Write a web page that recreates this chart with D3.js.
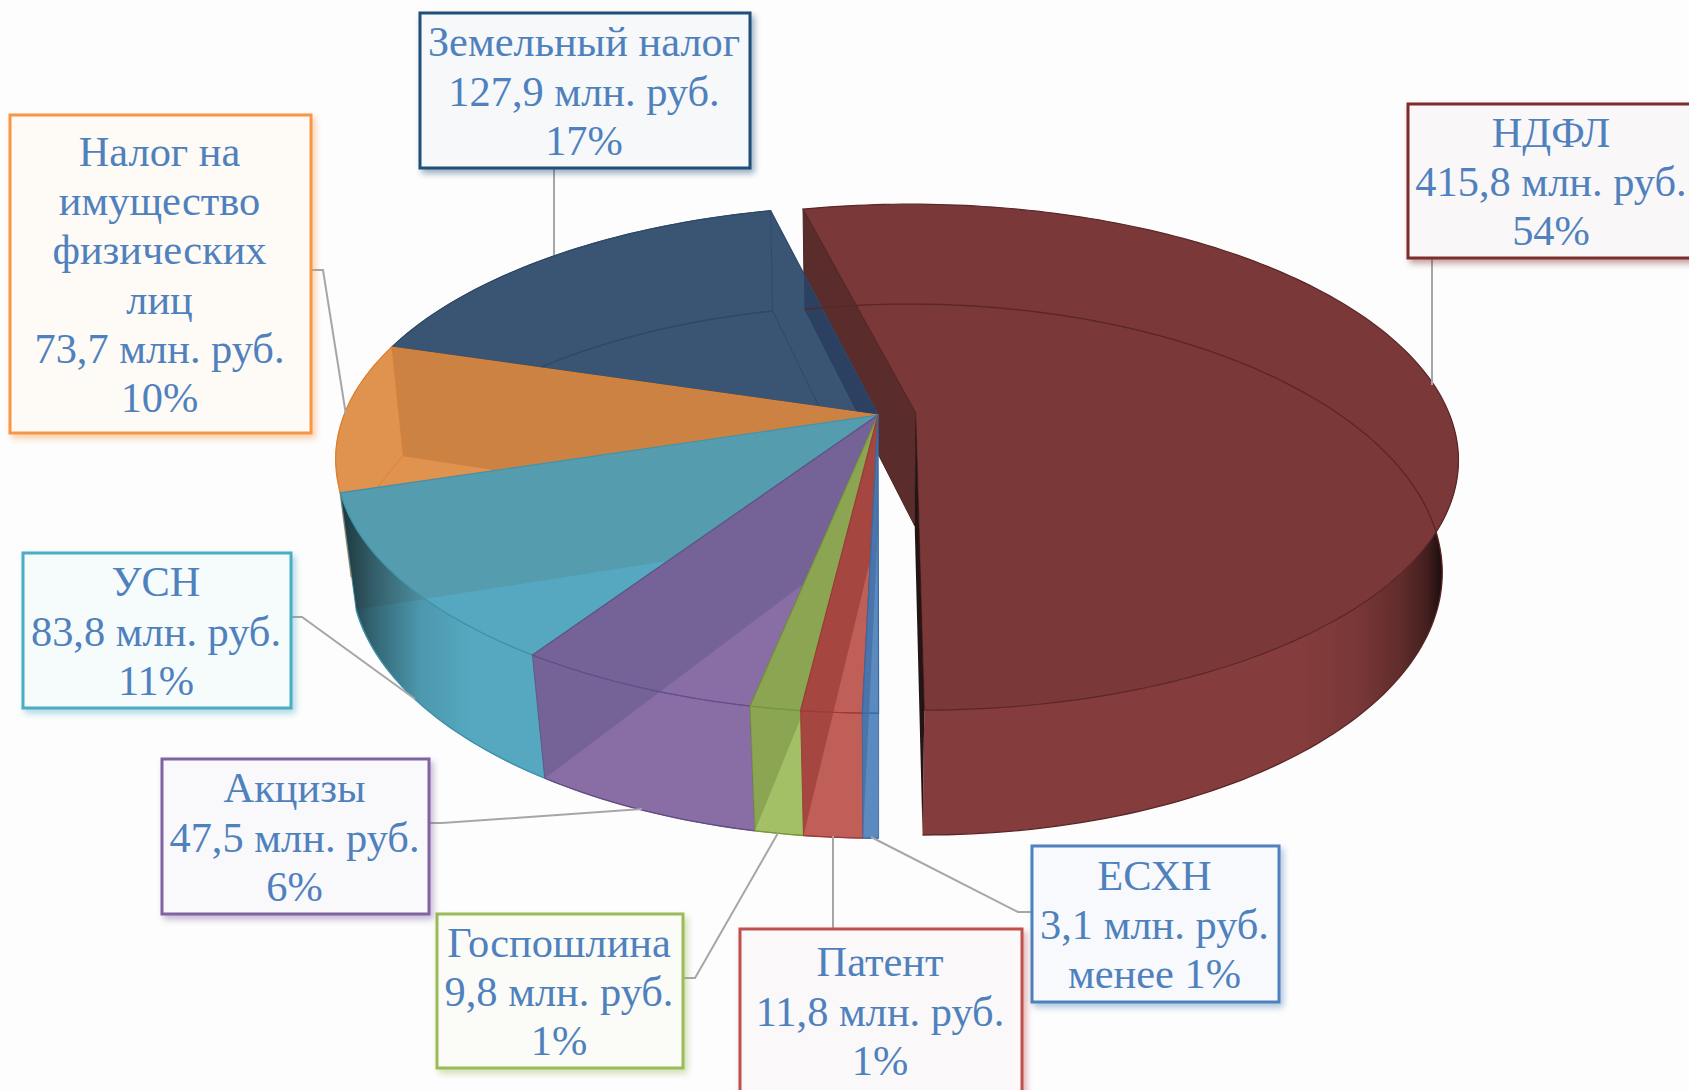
<!DOCTYPE html>
<html>
<head>
<meta charset="utf-8">
<script src="https://cdn.jsdelivr.net/npm/d3@7"></script>
<style>
  html, body { margin: 0; padding: 0; background: #fdfdfd; overflow: hidden; }
  svg { display: block; }
</style>
</head>
<body>
<script>
// chart values
var categories = ["НДФЛ", "ЕСХН", "Патент", "Госпошлина", "Акцизы", "УСН", "Налог на имущество физических лиц", "Земельный налог"];
var values = [415.8, 3.1, 11.8, 9.8, 47.5, 83.8, 73.7, 127.9];
var percents = ["54%", "менее 1%", "1%", "1%", "6%", "11%", "10%", "17%"];

// how the long category names wrap inside their boxes
var wrapped = [["НДФЛ"], ["ЕСХН"], ["Патент"], ["Госпошлина"], ["Акцизы"], ["УСН"], ["Налог на", "имущество", "физических", "лиц"], ["Земельный налог"]];

// slice colours, same order as categories
var lightColors = ["#7a3838", "#5b8ac0", "#c05e58", "#a3c066", "#896ea5", "#55a8c0", "#e0934e", "#3a5574"];
var darkColors = ["#7a3838", "#4a75aa", "#a64640", "#8ba552", "#756397", "#549cae", "#cc8242", "#3a5574"];
var edgeColors = ["#5a2626", "#3c68a2", "#9d3a36", "#779638", "#624f85", "#3f92aa", "#dd8030", "#2e4868"];
var boxStrokes = ["#7f2c2c", "#4f81bd", "#c0504d", "#9bbb59", "#8064a2", "#4bacc6", "#f79646", "#1f4e79"];
var boxFills = ["#f9f7f8", "#f7f9fc", "#faf8f8", "#fbfbf8", "#f9f8fb", "#f6fbfc", "#fefaf6", "#f6f8fa"];

// label boxes: x, y, width, height, then leader line points
var boxes = [
    { x: 1408, y: 104, w: 288, h: 154, leader: [[1432, 258], [1432, 385]] },
    { x: 1032, y: 846, w: 247, h: 156, leader: [[1032, 912], [1018, 912], [871, 837]] },
    { x: 740, y: 929, w: 282, h: 163, leader: [[833, 929], [833, 836]] },
    { x: 437, y: 914, w: 246, h: 154, leader: [[683, 978], [695, 978], [778, 833]] },
    { x: 162, y: 759, w: 267, h: 155, leader: [[429, 823], [442, 823], [642, 809]] },
    { x: 23, y: 553, w: 268, h: 155, leader: [[291, 617], [302, 617], [415, 699]] },
    { x: 10, y: 115, w: 301, h: 318, leader: [[311, 270], [323, 270], [346, 415]] },
    { x: 420, y: 13, w: 330, h: 155, leader: [[554, 168], [554, 255]] }
];

var width = 1689,
    height = 1090;

var svg = d3.select("body")
    .append("svg")
    .attr("width", width)
    .attr("height", height);

svg.append("rect").attr("width", width).attr("height", height).attr("fill", "#fdfdfd");

var defs = svg.append("defs");

// side shading gradients (black fading in towards the edge of the disc)
function addShade(id, x1, x2, stops){
    var g = defs.append("linearGradient")
        .attr("id", id)
        .attr("gradientUnits", "userSpaceOnUse")
        .attr("x1", x1).attr("x2", x2).attr("y1", 0).attr("y2", 0);
    stops.forEach(function(s){
        g.append("stop").attr("offset", s[0]).attr("stop-color", "#000").attr("stop-opacity", s[1]);
    });
}
addShade("shadeRight", 1300, 1442, [[0, 0], [0.4, 0.08], [0.7, 0.26], [0.9, 0.5], [1, 0.8]]);
addShade("shadeLeft", 345, 470, [[0, 0.62], [0.25, 0.38], [0.6, 0.1], [1, 0]]);

// perspective of the two discs, top and bottom plane
var topPlane = { cx: 878, cy: 415, k: 534, m: 246, p: 0.175 },
    bottomPlane = { cx: 878, cy: 528, k: 520, m: 259, p: 0.165 };

var explode = 0.0712;

function project(plane, X, Y){
    var w = 1 - plane.p * Y;
    return [plane.cx + plane.k * X / w, plane.cy + plane.m * Y / w];
}

// the pie starts a bit left of the back so that НДФЛ ends exactly at the front
var start = -13.6 * Math.PI / 180;
var pie = d3.pie().sort(null).startAngle(start).endAngle(start + 2 * Math.PI);
var slices = pie(values);

slices.forEach(function(d, i){
    var mid = (d.startAngle + d.endAngle) / 2;
    d.index = i;
    d.ox = i === 0 ? explode * Math.sin(mid) : 0;
    d.oy = i === 0 ? -explode * Math.cos(mid) : 0;
});

var line = d3.line();

function arcPoints(plane, d, a0, a1){
    var n = Math.max(2, Math.ceil((a1 - a0) / 0.02));
    return d3.range(n + 1).map(function(j){
        var a = a0 + (a1 - a0) * j / n;
        return project(plane, Math.sin(a) + d.ox, -Math.cos(a) + d.oy);
    });
}

function facePath(plane, d){
    var apex = project(plane, d.ox, d.oy);
    return line([apex].concat(arcPoints(plane, d, d.startAngle, d.endAngle))) + "Z";
}

function arcPath(plane, d, a0){
    return line(arcPoints(plane, d, a0 === undefined ? d.startAngle : a0, d.endAngle));
}

function sidePath(d, a0, a1){
    var upper = arcPoints(topPlane, d, a0, a1),
        lower = arcPoints(bottomPlane, d, a0, a1).reverse();
    return line(upper.concat(lower)) + "Z";
}

// radial wall of a slice at angle a
function wallPath(d, a){
    var p = [
        project(topPlane, d.ox, d.oy),
        project(topPlane, Math.sin(a) + d.ox, -Math.cos(a) + d.oy),
        project(bottomPlane, Math.sin(a) + d.ox, -Math.cos(a) + d.oy),
        project(bottomPlane, d.ox, d.oy)
    ];
    return line(p) + "Z";
}

var pieLayer = svg.append("g").attr("class", "pie");

var ndfl = slices[0];

// back wall of the pulled out slice goes behind everything
pieLayer.append("path")
    .attr("d", wallPath(ndfl, ndfl.startAngle))
    .attr("fill", "#5a2c2c")
    .attr("stroke", "#4d2424")
    .attr("stroke-width", 1);

function litLayer(g, id, shape){
    var clip = defs.append("clipPath").attr("id", id);
    clip.append("path").attr("d", shape);
    return g.append("g").attr("clip-path", "url(#" + id + ")");
}

function drawSlice(d){
    var i = d.index,
        g = pieLayer.append("g").attr("class", "slice-" + i),
        // НДФЛ only shows its front side, the orange side is cut short under УСН
        sideStart = i === 0 ? Math.PI / 2 : (i === 6 ? d.startAngle + 0.12 : d.startAngle),
        side = sidePath(d, sideStart, d.endAngle),
        top = facePath(topPlane, d),
        bottom = facePath(bottomPlane, d),
        facesBack = i !== 0 && (Math.cos(d.startAngle) > 0 || Math.cos(d.endAngle) > 0);

    // outer side first, lighter where it lies over the slice's own bottom
    g.append("path").attr("d", side).attr("fill", i === 0 ? "#843c3c" : darkColors[i]);
    if (i !== 0){
        litLayer(g, "clip-side-" + i, side).append("path")
            .attr("d", facesBack ? side : bottom)
            .attr("fill", lightColors[i]);
    }
    if (i === 0){
        g.append("path").attr("d", side).attr("fill", "url(#shadeRight)");
    }
    if (i === 5){
        g.append("path").attr("d", side).attr("fill", "url(#shadeLeft)");
    }

    // then the top face
    g.append("path").attr("d", top).attr("fill", darkColors[i]);
    var lit = litLayer(g, "clip-top-" + i, top);
    lit.append("path").attr("d", bottom).attr("fill", lightColors[i]);
    if (facesBack){
        lit.append("path").attr("d", side).attr("fill", lightColors[i]);
    }

    // land tax top over the wall of НДФЛ behind it
    if (i === 7){
        litLayer(g, "clip-land-top", top).append("path")
            .attr("d", wallPath(ndfl, ndfl.startAngle))
            .attr("fill", "#2c4062");
        g.append("path")
            .attr("d", line([project(bottomPlane, Math.sin(d.endAngle), -Math.cos(d.endAngle)), project(bottomPlane, 0, 0)]))
            .attr("fill", "none").attr("stroke", edgeColors[i]).attr("stroke-width", 1);
    }

    // edges, seen through the transparent slice
    g.append("path").attr("d", arcPath(bottomPlane, d, i === 6 ? sideStart : d.startAngle))
        .attr("fill", "none").attr("stroke", edgeColors[i]).attr("stroke-width", i === 6 ? 0.6 : 1.3);
    if (i !== 0){
        g.append("path").attr("d", side)
            .attr("fill", "none").attr("stroke", edgeColors[i]).attr("stroke-width", i === 6 ? 0.6 : 1).attr("stroke-opacity", 0.8);
    }
    g.append("path").attr("d", top)
        .attr("fill", "none").attr("stroke", edgeColors[i]).attr("stroke-width", 1.2);
}

// painter order, back to front, pulled out slice last
[7, 6, 5, 4, 3, 2, 1, 0].forEach(function(i){
    drawSlice(slices[i]);
});

// front wall of НДФЛ, nearly edge on
pieLayer.append("path")
    .attr("d", wallPath(ndfl, ndfl.endAngle))
    .attr("fill", "#241414");

// leader lines
var labelLayer = svg.append("g").attr("class", "labels");

labelLayer.selectAll(".leader")
    .data(boxes)
    .enter()
    .append("path")
    .attr("class", "leader")
    .attr("d", function(b){ return line(b.leader); })
    .attr("fill", "none")
    .attr("stroke", "#a6a6a6")
    .attr("stroke-width", 2);

// boxes
labelLayer.selectAll(".box")
    .data(boxes)
    .enter()
    .append("rect")
    .attr("class", "box")
    .attr("x", function(b){ return b.x; })
    .attr("y", function(b){ return b.y; })
    .attr("width", function(b){ return b.w; })
    .attr("height", function(b){ return b.h; })
    .attr("fill", function(b, i){ return boxFills[i]; })
    .attr("stroke", function(b, i){ return boxStrokes[i]; })
    .attr("stroke-width", 3)
    .style("filter", function(b, i){
        return "drop-shadow(3px 4px 3px " + d3.color(boxStrokes[i]).copy({ opacity: 0.45 }) + ")";
    });

// numbers with a decimal comma
var ruFormat = d3.formatLocale({ decimal: ",", thousands: " ", grouping: [3], currency: ["", ""] }).format(".1f");

var lineStep = 49.1;

boxes.forEach(function(b, i){
    var lines = wrapped[i].concat([ruFormat(values[i]) + " млн. руб.", percents[i]]),
        first = b.y + b.h / 2 + 15 - (lines.length - 1) / 2 * lineStep;
    var t = labelLayer.append("text")
        .attr("text-anchor", "middle")
        .attr("font-family", "'Liberation Serif', serif")
        .attr("font-size", 42.4)
        .attr("fill", "#4f81bd");
    lines.forEach(function(s, j){
        t.append("tspan")
            .attr("x", b.x + b.w / 2 - 1)
            .attr("y", first + j * lineStep)
            .text(s);
    });
});
</script>
</body>
</html>
